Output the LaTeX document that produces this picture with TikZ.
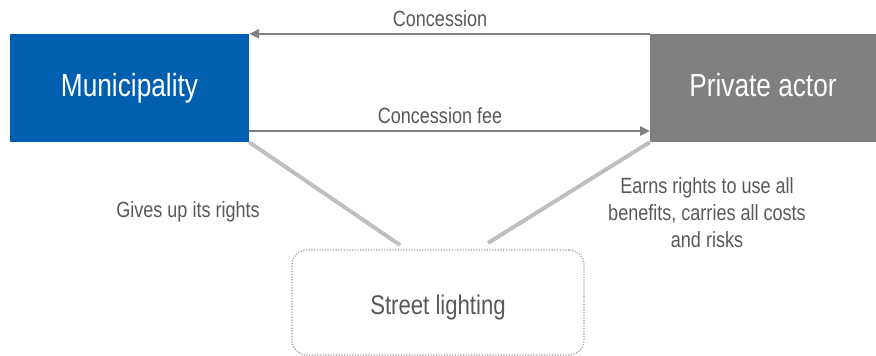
\documentclass[tikz,border=0pt]{standalone}
\usepackage{fontspec}
\setmainfont{Liberation Sans}[FakeStretch=0.82]
\usetikzlibrary{arrows.meta}
\definecolor{munblue}{RGB}{0,95,175}
\definecolor{privgray}{RGB}{128,128,128}
\definecolor{txtgray}{RGB}{89,89,89}
\definecolor{arrgray}{RGB}{128,128,128}
\definecolor{diaggray}{RGB}{191,191,191}
\definecolor{dotgray}{RGB}{150,150,150}
\tikzset{
  actor/.style={rectangle, inner sep=0pt, minimum height=108pt, text height=23.5pt, text depth=6.7pt, text=white, font=\fontsize{32}{36}\selectfont},
  flow/.style={draw=arrgray, line width=2.6pt, -{Triangle[length=10pt,width=9pt]}},
  link/.style={draw=diaggray, line width=4pt},
  lbl/.style={text=txtgray, font=\fontsize{22}{27}\selectfont, inner sep=0pt, align=center},
  asset/.style={draw=dotgray, dash pattern=on 1.1pt off 1.6pt, line width=1.2pt, rounded corners=15pt, minimum width=292pt, minimum height=105pt, inner sep=0pt, text=txtgray, font=\fontsize{27}{32}\selectfont}
}
\begin{document}
\begin{tikzpicture}[x=1pt,y=-1pt]
\useasboundingbox (0,0) rectangle (876,356);
\node[actor, fill=munblue, minimum width=239pt] (mun) at (129.5,88) {Municipality};
\node[actor, fill=privgray, minimum width=226pt] (priv) at (763,88) {Private actor};
\node[asset, text height=29.5pt, text depth=5.7pt] (street) at (438,302.5) {Street lighting};
\coordinate (feeL) at (249,131);
\coordinate (feeR) at (650,131);
\coordinate (dl) at (400,245);
\coordinate (dr) at (488,243);
\draw[flow] (priv.north west) -- (mun.north east);
\draw[flow] (feeL) -- (feeR);
\draw[link] (mun.south east) -- (dl);
\draw[link] (priv.south west) -- (dr);
\node[lbl] (lconc) at (440,19) {Concession};
\node[lbl] (lfee) at (440,116) {Concession fee};
\node[lbl] (lgive) at (188,212) {Gives up its rights};
\node[lbl] (learn) at (707,213) {Earns rights to use all\\benefits, carries all costs\\and risks};
\end{tikzpicture}
\end{document}
